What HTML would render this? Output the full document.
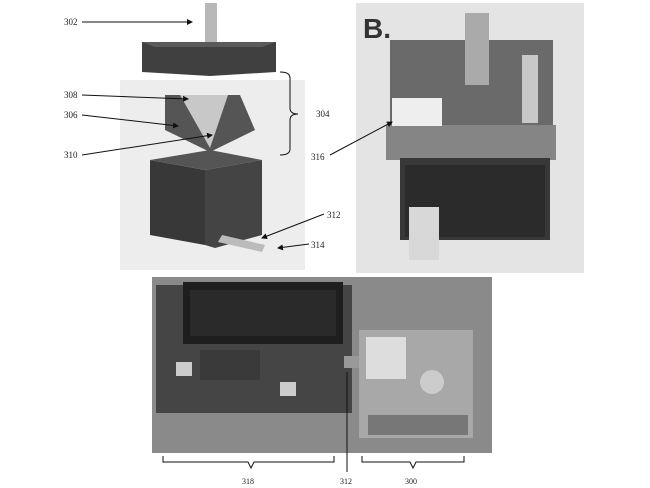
<!DOCTYPE html>
<html><head><style>body{margin:0;background:#fff}svg{display:block}text{font-family:"Liberation Serif",serif;font-size:9px;fill:#222}</style></head><body>
<svg width="650" height="488" viewBox="0 0 650 488">
<defs><marker id="a" markerWidth="6" markerHeight="6" refX="5" refY="3" orient="auto"><path d="M0,0L6,3L0,6z" fill="#111"/></marker></defs>
<rect x="120" y="80" width="185" height="190" fill="#ededed"/>
<rect x="205" y="3" width="12" height="40" fill="#b8b8b8"/>
<polygon points="142,42 276,42 276,72 210,76 142,72" fill="#404040"/>
<polygon points="142,42 276,42 262,47 155,47" fill="#5a5a5a"/>
<polygon points="165,95 240,95 255,130 210,152 165,130" fill="#555"/>
<polygon points="180,95 228,95 210,148" fill="#c8c8c8"/>
<polygon points="150,160 205,170 205,245 150,235" fill="#383838"/>
<polygon points="205,170 262,160 262,235 215,248 205,245" fill="#444"/>
<polygon points="150,160 205,170 262,160 210,150" fill="#555"/>
<polygon points="222,235 265,245 262,252 218,242" fill="#bbb"/>
<text x="64" y="25">302</text><line x1="82" y1="22" x2="192" y2="22" stroke="#111" marker-end="url(#a)"/>
<text x="64" y="98">308</text><line x1="82" y1="95" x2="188" y2="99" stroke="#111" marker-end="url(#a)"/>
<text x="64" y="118">306</text><line x1="82" y1="115" x2="178" y2="126" stroke="#111" marker-end="url(#a)"/>
<text x="64" y="158">310</text><line x1="82" y1="155" x2="212" y2="135" stroke="#111" marker-end="url(#a)"/>
<path d="M280,72 q10,0 10,6 v30 q0,6 8,6 q-8,0 -8,6 v29 q0,6 -10,6" fill="none" stroke="#111"/>
<text x="316" y="117">304</text>
<text x="327" y="218">312</text><line x1="324" y1="214" x2="262" y2="238" stroke="#111" marker-end="url(#a)"/>
<text x="311" y="248">314</text><line x1="309" y1="244" x2="278" y2="248" stroke="#111" marker-end="url(#a)"/>
<rect x="356" y="3" width="228" height="270" fill="#e4e4e4"/>
<text x="363" y="38" style="font-family:'Liberation Sans',sans-serif;font-weight:bold;font-size:28px;fill:#333">B.</text>
<rect x="390" y="40" width="163" height="120" fill="#6a6a6a"/>
<rect x="386" y="125" width="170" height="35" fill="#858585"/>
<rect x="400" y="158" width="150" height="82" fill="#383838"/>
<rect x="405" y="165" width="140" height="72" fill="#2b2b2b"/>
<rect x="522" y="55" width="16" height="68" fill="#c8c8c8"/>
<rect x="465" y="13" width="24" height="72" fill="#aaa"/>
<rect x="392" y="98" width="50" height="28" fill="#eee"/>
<rect x="409" y="207" width="30" height="53" fill="#d8d8d8"/>
<text x="311" y="160">316</text>
<line x1="330" y1="155" x2="392" y2="122" stroke="#111" marker-end="url(#a)"/>
<rect x="152" y="277" width="340" height="176" fill="#8a8a8a"/>
<rect x="156" y="285" width="196" height="128" fill="#454545"/>
<rect x="183" y="282" width="160" height="62" fill="#1e1e1e"/>
<rect x="190" y="290" width="146" height="46" fill="#2a2a2a"/>
<rect x="200" y="350" width="60" height="30" fill="#3a3a3a"/>
<rect x="176" y="362" width="16" height="14" fill="#ccc"/>
<rect x="280" y="382" width="16" height="14" fill="#ccc"/>
<rect x="344" y="356" width="16" height="12" fill="#999"/>
<rect x="359" y="330" width="114" height="108" fill="#a8a8a8"/>
<rect x="366" y="337" width="40" height="42" fill="#ddd"/>
<circle cx="432" cy="382" r="12" fill="#ccc"/>
<rect x="368" y="415" width="100" height="20" fill="#777"/>
<path d="M163,456 v6 h85 l3,6 l3,-6 h80 v-6" fill="none" stroke="#111"/>
<path d="M362,456 v6 h48 l3,6 l3,-6 h48 v-6" fill="none" stroke="#111"/>
<line x1="347" y1="372" x2="347" y2="472" stroke="#111"/>
<text x="242" y="484" style="font-size:8px">318</text>
<text x="340" y="484" style="font-size:8px">312</text>
<text x="405" y="484" style="font-size:8px">300</text>
</svg></body></html>
